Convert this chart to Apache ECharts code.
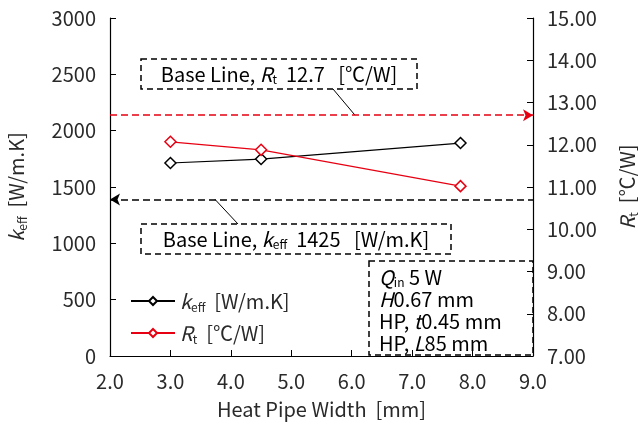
<!DOCTYPE html>
<html>

<head>
    <meta charset="UTF-8" />
    <title>Heat Pipe Width</title>
    <script src="https://cdn.jsdelivr.net/npm/echarts@6/dist/echarts.min.js"></script>
    <style>
        body { margin: 0; background: #fff; }
        #chart { width: 638px; height: 425px; }
    </style>
</head>

<body>
    <div id="chart"></div>

    <script type="text/javascript">
        // data
        const widths = [3.0, 4.5, 7.8];
        const kEff = [1713, 1748, 1890];
        const rT = [12.07, 11.88, 11.02];
        const kBase = 1390;   // drawn position of the k_eff base line
        const rBase = 12.7;
        const kBaseLabel = '1425';
        const rBaseLabel = '12.7';
        const infoLines = [
            '{i|Q}{s|in}{n| 5 W}',
            '{i|H}{n|0.67 mm}',
            '{n|HP, }{i|t}{n|0.45 mm}',
            '{n|HP, }{i|L}{n|85 mm}'
        ];

        const F = '"Noto Sans CJK JP", "Noto Sans", sans-serif';
        const RED = '#e60012';
        const TXT = '#2a2a2a';

        let mkRich = (size, lh) => ({
            n: { fontFamily: F, fontSize: size, color: TXT, lineHeight: lh },
            i: { fontFamily: F, fontSize: size, color: TXT, fontStyle: 'italic', lineHeight: lh },
            s: { fontFamily: F, fontSize: 12, color: TXT, lineHeight: 12, verticalAlign: 'bottom' }
        });

        let chart = echarts.init(document.getElementById('chart'));

        let option = {
            animation: false,
            grid: { left: 110, right: 105, top: 18, bottom: 69, outerBoundsMode: 'none', containLabel: false },
            legend: {
                orient: 'vertical',
                left: 125,
                top: 286,
                itemWidth: 44,
                itemHeight: 10,
                itemGap: 10,
                data: ['k', 'R'],
                formatter: name => name == 'k'
                    ? '{i|k}{s|eff}{n|  [W/m.K]}'
                    : '{i|R}{s|t}{n|  [℃/W]}',
                textStyle: { rich: mkRich(20, 24) }
            },
            xAxis: {
                type: 'value',
                min: 2, max: 9, interval: 1,
                name: 'Heat Pipe Width  [mm]',
                nameLocation: 'middle',
                nameGap: 43,
                nameTextStyle: { fontFamily: F, fontSize: 20, color: TXT },
                axisLine: { lineStyle: { color: '#000', width: 1.2 } },
                axisTick: { inside: true, length: 6, lineStyle: { color: '#000' } },
                axisLabel: { formatter: v => v.toFixed(1), fontFamily: F, fontSize: 20, color: TXT, margin: 15 },
                splitLine: { show: false }
            },
            yAxis: [
                {
                    type: 'value',
                    min: 0, max: 3000, interval: 500,
                    name: '{i|k}{s|eff}{n|  [W/m.K]}',
                    nameLocation: 'middle',
                    nameRotate: 90,
                    nameGap: 82,
                    nameTextStyle: { rich: mkRich(20, 24) },
                    axisLine: { show: true, lineStyle: { color: '#000', width: 1.2 } },
                    axisTick: { show: true, inside: true, length: 6, lineStyle: { color: '#000' } },
                    axisLabel: { formatter: v => String(v), fontFamily: F, fontSize: 20, color: TXT, margin: 14 },
                    splitLine: { show: false }
                },
                {
                    type: 'value',
                    min: 7, max: 15, interval: 1,
                    position: 'right',
                    name: '{i|R}{s|t}{n|  [℃/W]}',
                    nameLocation: 'middle',
                    nameRotate: 90,
                    nameGap: 82,
                    nameTextStyle: { rich: mkRich(20, 24) },
                    axisLine: { show: true, lineStyle: { color: '#000', width: 1.2 } },
                    axisTick: { show: true, inside: true, length: 6, lineStyle: { color: '#000' } },
                    axisLabel: { formatter: v => v.toFixed(2), fontFamily: F, fontSize: 20, color: TXT, margin: 14 },
                    splitLine: { show: false }
                }
            ],
            series: [
                {
                    name: 'k',
                    type: 'line',
                    yAxisIndex: 0,
                    data: widths.map((x, i) => [x, kEff[i]]),
                    symbol: 'diamond',
                    symbolSize: 11,
                    lineStyle: { color: '#000', width: 1.2 },
                    itemStyle: { color: '#fff', borderColor: '#000', borderWidth: 1.5 },
                    markLine: {
                        silent: true,
                        symbol: ['arrow', 'none'],
                        symbolSize: [9, 10],
                        label: { show: false },
                        lineStyle: { color: '#000', type: [7, 4], width: 1.5 },
                        data: [{ yAxis: kBase }]
                    }
                },
                {
                    name: 'R',
                    type: 'line',
                    yAxisIndex: 1,
                    data: widths.map((x, i) => [x, rT[i]]),
                    symbol: 'diamond',
                    symbolSize: 11,
                    lineStyle: { color: RED, width: 1.2 },
                    itemStyle: { color: '#fff', borderColor: RED, borderWidth: 1.5 },
                    markLine: {
                        silent: true,
                        symbol: ['none', 'arrow'],
                        symbolSize: [9, 10],
                        label: { show: false },
                        lineStyle: { color: RED, type: [7, 4], width: 1.5 },
                        data: [{ yAxis: rBase }]
                    }
                }
            ]
        };
        chart.setOption(option);

        // annotation boxes, leader lines hooked onto the base lines
        let yR = chart.convertToPixel({ yAxisIndex: 1 }, rBase);
        let yK = chart.convertToPixel({ yAxisIndex: 0 }, kBase);
        let dashBox = { fill: 'none', stroke: '#000', lineWidth: 1.5, lineDash: [6, 4] };
        let rich = mkRich(20, 22);

        chart.setOption({
            graphic: [
                { type: 'rect', shape: { x: 141, y: 59, width: 276, height: 30 }, style: dashBox },
                {
                    type: 'text', x: 279, y: 74,
                    style: {
                        text: '{n|Base Line, }{i|R}{s|t}{n|  ' + rBaseLabel + '   [℃/W]}',
                        rich: rich, align: 'center', verticalAlign: 'middle'
                    }
                },
                { type: 'line', shape: { x1: 333, y1: 89, x2: 355, y2: yR }, style: { stroke: '#000', lineWidth: 1 } },

                { type: 'rect', shape: { x: 141, y: 224, width: 310, height: 30 }, style: dashBox },
                {
                    type: 'text', x: 296, y: 239,
                    style: {
                        text: '{n|Base Line, }{i|k}{s|eff}{n|  ' + kBaseLabel + '   [W/m.K]}',
                        rich: rich, align: 'center', verticalAlign: 'middle'
                    }
                },
                { type: 'line', shape: { x1: 215, y1: yK, x2: 238, y2: 224 }, style: { stroke: '#000', lineWidth: 1 } },

                { type: 'rect', shape: { x: 369, y: 261, width: 164, height: 94 }, style: dashBox },
                {
                    type: 'text', x: 379, y: 266,
                    style: {
                        text: infoLines.join('\n'),
                        rich: rich, align: 'left', verticalAlign: 'top'
                    }
                }
            ]
        });
    </script>
</body>

</html>
